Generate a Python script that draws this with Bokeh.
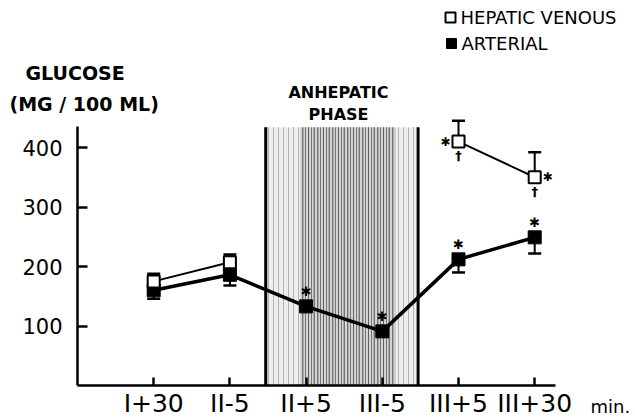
import math
from bokeh.plotting import figure
from bokeh.models import (Range1d, FixedTicker, ColumnDataSource, Whisker, TeeHead, Label)
from bokeh.core.properties import value
from bokeh.embed import file_html
from bokeh.resources import INLINE

nan = float("nan")

# ---------------- data ----------------
times = ["I+30", "II-5", "II+5", "III-5", "III+5", "III+30"]
xpos = [1, 2, 3, 4, 5, 6]
hepatic = [175, 207, nan, nan, 410, 350]
hepatic_upper = [188, 220, nan, nan, 445, 392]
arterial = [160, 186, 133, 91, 212, 249]
arterial_lower = [146, 168, nan, nan, 190, 222]
arterial_sig = [False, False, True, True, True, True]   # asterisk above
hepatic_sig_side = [0, 0, 0, 0, -1, 1]                   # asterisk beside
hepatic_dagger = [False, False, False, False, True, True]
phase_start, phase_end = 2.47, 4.47
y_ticks = [100, 200, 300, 400]

FONT = "DejaVu Sans"
W, H = 635, 417
LEFT = 77          # y-axis position (px from left)
BOTTOM = 385       # x-axis position (px from top)
PX_PER_X = 76.2
PX_PER_Y = 0.595

p = figure(width=W, height=H, output_backend="svg", toolbar_location=None,
           min_border_left=0, min_border_right=0, min_border_top=0, min_border_bottom=0)
p.x_range = Range1d(-LEFT / PX_PER_X, (W - LEFT) / PX_PER_X)
p.y_range = Range1d(-(H - BOTTOM) / PX_PER_Y, BOTTOM / PX_PER_Y)
p.grid.visible = False
p.outline_line_color = None
p.background_fill_color = "white"
p.border_fill_color = "white"

# axes (drawn at the data origin)
xa = p.xaxis[0]
xa.fixed_location = 0
xa.ticker = FixedTicker(ticks=xpos)
xa.major_label_overrides = {x: t for x, t in zip(xpos, times)}
xa.bounds = (0, 6.27)
xa.major_tick_in = 8
xa.major_tick_out = 0
xa.minor_tick_line_color = None
xa.axis_line_width = 2.5
xa.major_tick_line_width = 2.5
xa.major_label_text_font = FONT
xa.major_label_text_font_size = "25px"
xa.major_label_text_color = "black"
xa.major_label_standoff = 3

ya = p.yaxis[0]
ya.fixed_location = 0
ya.ticker = FixedTicker(ticks=y_ticks)
ya.bounds = (0, 435)
ya.major_tick_in = 10
ya.major_tick_out = 0
ya.minor_tick_line_color = None
ya.axis_line_width = 2.5
ya.major_tick_line_width = 2.5
ya.major_label_text_font = FONT
ya.major_label_text_font_size = "21px"
ya.major_label_text_color = "black"
ya.major_label_standoff = 15

# anhepatic shading
p.quad(left=[phase_start], right=[phase_end], bottom=[0], top=[434],
       fill_color="#bbbbbb", fill_alpha=0.25, line_color=None,
       hatch_pattern="|", hatch_color="black", hatch_alpha=0.25, hatch_scale=5, hatch_weight=1)
p.quad(left=[phase_start + 0.45], right=[phase_end - 0.3], bottom=[0], top=[434],
       fill_color="#999999", fill_alpha=0.3, line_color=None,
       hatch_pattern="|", hatch_color="black", hatch_alpha=0.45, hatch_scale=3, hatch_weight=1)
p.segment(x0=[phase_start, phase_end], y0=[0, 0], x1=[phase_start, phase_end], y1=[434, 434],
          line_color="black", line_width=3)


# error bars (only where a value exists)
def valid(xs, a, b):
    keep = [i for i in range(len(xs)) if not (math.isnan(a[i]) or math.isnan(b[i]))]
    return dict(x=[xs[i] for i in keep], lo=[a[i] for i in keep], hi=[b[i] for i in keep])


src_h = ColumnDataSource(valid(xpos, hepatic, hepatic_upper))
src_a = ColumnDataSource(valid(xpos, arterial_lower, arterial))
p.add_layout(Whisker(source=src_h, base="x", lower="lo", upper="hi", line_width=2,
                     upper_head=TeeHead(size=13, line_width=2.5), lower_head=None))
p.add_layout(Whisker(source=src_a, base="x", lower="lo", upper="hi", line_width=2,
                     lower_head=TeeHead(size=13, line_width=2.5), upper_head=None))

# lines
p.line(xpos, arterial, line_color="black", line_width=3.5)
p.line(xpos, hepatic, line_color="black", line_width=2)

# markers
p.scatter(xpos, arterial, marker="square", size=13, fill_color="black", line_color="black")
p.scatter(xpos, hepatic, marker="square", size=12, fill_color="white", line_color="black", line_width=2)

# significance symbols
ax = [x for x, s in zip(xpos, arterial_sig) if s]
ay = [y for y, s in zip(arterial, arterial_sig) if s]
p.text(ax, ay, text=value("✱"), text_font=value(FONT), text_font_size="13px",
       text_align="center", text_baseline="middle", y_offset=-15, text_color="black")
for side in (-1, 1):
    hx = [x for x, s in zip(xpos, hepatic_sig_side) if s == side]
    hy = [y for y, s in zip(hepatic, hepatic_sig_side) if s == side]
    p.text(hx, hy, text=value("✱"), text_font=value(FONT), text_font_size="12px",
           text_align="center", text_baseline="middle", x_offset=13 * side, text_color="black")
dx = [x for x, s in zip(xpos, hepatic_dagger) if s]
dy = [y for y, s in zip(hepatic, hepatic_dagger) if s]
p.text(dx, dy, text=value("†"), text_font=value(FONT), text_font_size="13px", text_font_style="bold",
       text_align="center", text_baseline="middle", y_offset=14, text_color="black")


# legend and texts (positions in pixels, converted through the scales)
def xd(px):
    return (px - LEFT) / PX_PER_X


def yd(py):
    return (BOTTOM - py) / PX_PER_Y


p.scatter([xd(450)], [yd(17)], marker="square", size=10, fill_color="white", line_color="black", line_width=2)
p.scatter([xd(451)], [yd(43)], marker="square", size=10, fill_color="black", line_color="black")


def label(txt, px, py, size, align="left", bold=False):
    p.add_layout(Label(x=xd(px), y=yd(py), text=txt, text_font=FONT, text_font_size=size,
                       text_font_style="bold" if bold else "normal",
                       text_align=align, text_baseline="middle", text_color="black"))


label("HEPATIC VENOUS", 460, 17, "18px")
label("ARTERIAL", 461, 43, "18px")
label("GLUCOSE", 25, 72, "19px", bold=True)
label("(MG / 100 ML)", 9, 103, "19px", bold=True)
label("ANHEPATIC", 338, 92, "16px", "center", bold=True)
label("PHASE", 338, 114, "16px", "center", bold=True)
label("min.", 590, 406, "18px")

open("out.html", "w").write(file_html(p, INLINE))
